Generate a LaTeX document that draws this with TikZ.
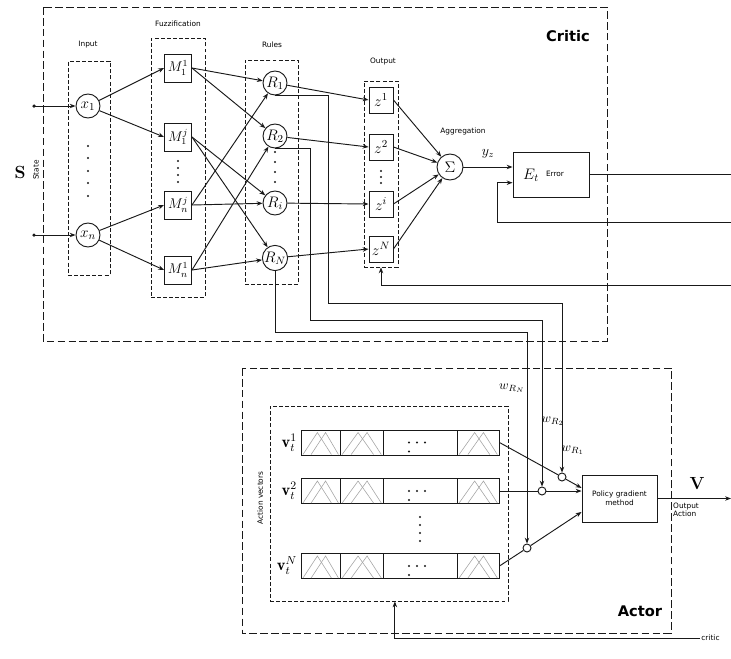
\RequirePackage{fix-cm}
\documentclass[tikz,border=0pt]{standalone}
\usepackage{fontspec}
\setsansfont{DejaVu Sans}
\usepackage{tikz}
\definecolor{wire}{RGB}{25,25,25}
\definecolor{mfgray}{RGB}{165,165,165}
\usetikzlibrary{arrows.meta, positioning, calc, fit}

\tikzset{
  frame/.style={draw=wire, line width=0.8pt, dash pattern=on 6.5pt off 2.8pt},
  group/.style={draw=wire, line width=0.7pt, dash pattern=on 3.4pt off 1.8pt, inner sep=0pt},
  grplabel/.style={font=\sffamily\fontsize{6.3}{7}\selectfont},
  mathbig/.style={font=\fontsize{13}{14}\selectfont},
  neuron/.style={circle, draw=wire, line width=0.8pt, minimum size=0.72cm, inner sep=0pt, mathbig},
  mfbox/.style={draw=wire, line width=0.8pt, minimum width=0.81cm, minimum height=0.84cm, inner sep=0pt, font=\fontsize{12}{13}\selectfont},
  zbox/.style={draw=wire, line width=0.8pt, minimum width=0.72cm, minimum height=0.78cm, inner sep=0pt, mathbig},
  block/.style={draw=wire, line width=0.8pt, inner sep=0pt},
  joint/.style={circle, draw=wire, line width=0.8pt, minimum size=0.24cm, inner sep=0pt, fill=white},
  vrow/.style={draw=wire, line width=0.8pt, minimum width=5.94cm, minimum height=0.75cm, inner sep=0pt},
  wirearrow/.style={-{Stealth[length=5pt,width=3.8pt]}, line width=0.8pt, draw=wire},
  plainwire/.style={line width=0.8pt, draw=wire},
  bigtitle/.style={font=\sffamily\bfseries\fontsize{12.5}{14}\selectfont}
}

\begin{document}
\begin{tikzpicture}[x=0.03cm, y=-0.03cm]
\useasboundingbox (0,0) rectangle (731,658);

% ---- critic part
\draw[frame] (43,7) rectangle (607,341);
\node[bigtitle] (criticlbl) at (568,36) {Critic};

\node[group, fit={(68,61) (110,275)}] (ingrp) {};
\node[group, fit={(151,38) (205,297)}] (fuzgrp) {};
\node[group, fit={(245,60) (298,284)}] (rulegrp) {};
\node[group, fit={(364,81) (398,267)}] (outgrp) {};
\node[grplabel] (inlbl) at (88,45) {Input};
\node[grplabel] (fuzlbl) at (178,24) {Fuzzification};
\node[grplabel] (rulelbl) at (272,45) {Rules};
\node[grplabel] (outlbl) at (383,62) {Output};

\node[font=\bfseries\fontsize{15}{16}\selectfont] (slbl) at (20,172) {S};
\node[grplabel, rotate=90] (statelbl) at (36,170) {State};

% inputs
\node[neuron] (x1) at (88,106) {$x_1$};
\node[neuron] (xn) at (88,235) {$x_n$};
\coordinate (s1) at (34,106);
\coordinate (sn) at (34,235);
\fill[wire] (s1) circle (1.5pt);
\fill[wire] (sn) circle (1.5pt);
\draw[wirearrow] (s1) -- (x1);
\draw[wirearrow] (sn) -- (xn);
\foreach \yy in {146,158,171,183,196}
  \fill[wire] (88,\yy) circle (0.9pt);

% fuzzification
\node[mfbox] (M1) at (178,68) {$M^1_1$};
\node[mfbox] (M2) at (178,137) {$M^j_1$};
\node[mfbox] (M3) at (178,205) {$M^j_n$};
\node[mfbox] (M4) at (178,270) {$M^1_n$};
\foreach \yy in {161,168,175,182}
  \fill[wire] (178,\yy) circle (0.9pt);
\draw[wirearrow] (x1) -- (M1.west);
\draw[wirearrow] (x1) -- (M2.west);
\draw[wirearrow] (xn) -- (M3.west);
\draw[wirearrow] (xn) -- (M4.west);

% rules
\node[neuron] (R1) at (275,83) {$R_1$};
\node[neuron] (R2) at (275,136) {$R_2$};
\node[neuron] (Ri) at (275,203) {$R_i$};
\node[neuron] (RN) at (275,258) {$R_N$};
\foreach \yy in {152,162,172,182}
  \fill[wire] (275,\yy) circle (0.9pt);
\foreach \src/\dst in {M1/R1, M1/R2, M2/Ri, M2/RN, M3/R1, M3/Ri, M4/R2, M4/RN}
  \draw[wirearrow] (\src.east) -- (\dst);

% outputs and aggregation
\node[zbox] (z1) at (381,100) {$z^1$};
\node[zbox] (z2) at (381,147) {$z^2$};
\node[zbox] (zi) at (381,204) {$z^i$};
\node[zbox] (zN) at (381,249) {$z^N$};
\foreach \yy in {171,177,183}
  \fill[wire] (381,\yy) circle (0.9pt);
\foreach \src/\dst in {R1/z1, R2/z2, Ri/zi, RN/zN}
  \draw[wirearrow] (\src) -- (\dst.west);

\node[neuron, minimum size=0.78cm] (sigma) at (450,167) {$\Sigma$};
\node[grplabel] (agglbl) at (463,131) {Aggregation};
\foreach \src in {z1, z2, zi, zN}
  \draw[wirearrow] (\src.east) -- (sigma);

\node[block, minimum width=2.28cm, minimum height=1.35cm] (err) at (551,174.5) {};
\node[mathbig] (errsym) at (531,175) {$E_t$};
\node[grplabel] (errtxt) at (555,174) {Error};
\draw[wirearrow] (sigma) -- (sigma -| err.west);
\node[font=\fontsize{12}{13}\selectfont] (yzlbl) at (488,154) {$y_z$};

\coordinate (redge) at (731,0);
\coordinate (fbin) at (731,222);
\coordinate (zfb) at (731,285);
\draw[plainwire] (err.east) -- (err.east -| redge);
\draw[wirearrow] (fbin) -- (497,222) |- ([yshift=-7pt]err.west);
\draw[wirearrow] (zfb) -| (outgrp.south);

% ---- actor part
\draw[frame] (242,368) rectangle (671,633);
\node[bigtitle] (actorlbl) at (640,611) {Actor};
\node[group, fit={(270,406) (508,601)}] (actgrp) {};
\node[grplabel, rotate=90] (actlbl) at (260,498) {Action vectors};

\foreach \rw/\yc/\vsup in {rowA/442.5/1, rowB/491/2, rowN/566/N}{
  \node[vrow] (\rw) at (400,\yc) {};
  \node[left=2pt of \rw, inner sep=1pt, font=\fontsize{14}{15}\selectfont] (\rw-lbl) {$\mathbf{v}_t^{\vsup}$};
  \foreach \cx in {340,383,457}
    \draw[plainwire] (\cx,\yc-12.5) -- (\cx,\yc+12.5);
  \foreach \xl/\w in {301/39, 340/43, 457/42}{
    \draw[mfgray, line width=0.5pt] (\xl+0.05*\w,\yc+12) -- (\xl+0.42*\w,\yc-10) -- (\xl+0.78*\w,\yc+12);
    \draw[mfgray, line width=0.5pt] (\xl+0.26*\w,\yc+12) -- (\xl+0.63*\w,\yc-10) -- (\xl+0.96*\w,\yc+12);
  }
  \foreach \dx in {409,417,425}
    \fill[wire] (\dx,\yc) circle (0.9pt);
  \fill[wire] (409,\yc+9) circle (0.9pt);
}
\foreach \yy in {517,525,533,541}
  \fill[wire] (420,\yy) circle (0.9pt);

\node[block, minimum width=2.25cm, minimum height=1.41cm, align=center,
      font=\sffamily\fontsize{6.3}{8}\selectfont] (pg) at (619.5,498.5) {Policy gradient\\method};
\node[joint] (c1) at (562,477) {};
\node[joint] (c2) at (542,491) {};
\node[joint] (c3) at (527,548) {};

\draw[plainwire] (rowA.east) -- (c1);
\draw[plainwire] (rowB.east) -- (c2);
\draw[plainwire] (rowN.east) -- (c3);
\draw[wirearrow] (c1) -- ([yshift=9pt]pg.west);
\draw[wirearrow] (c2) -- (c2 -| pg.west);
\draw[wirearrow] (c3) -- ([yshift=-11.5pt]pg.west);

% weights from the rules
\draw[wirearrow] (R1.south) -| (328,303) -| (c1.north);
\draw[wirearrow] (R2.south) -| (310,320) -| (c2.north);
\draw[wirearrow] (RN.south) |- (527,332) -- (c3.north);
\node[font=\fontsize{11}{12}\selectfont] (wN) at (512,388) {$w_{R_N}$};
\node[font=\fontsize{11}{12}\selectfont] (w2) at (553,421) {$w_{R_2}$};
\node[font=\fontsize{11}{12}\selectfont] (w1) at (573,450) {$w_{R_1}$};

% output action and critic signal
\coordinate (vout) at (731,498.5);
\draw[wirearrow] (pg.east) -- (vout);
\node[font=\bfseries\fontsize{15}{16}\selectfont] (vlbl) at (697,484) {V};
\node[grplabel, anchor=north west, align=left, inner sep=0pt] (outact) at (673,503) {Output\\Action};

\node[grplabel, anchor=west, inner sep=1pt] (critictxt) at (700,638) {critic};
\draw[wirearrow] (critictxt.west) -| ([xshift=5pt]actgrp.south);
\end{tikzpicture}
\end{document}
